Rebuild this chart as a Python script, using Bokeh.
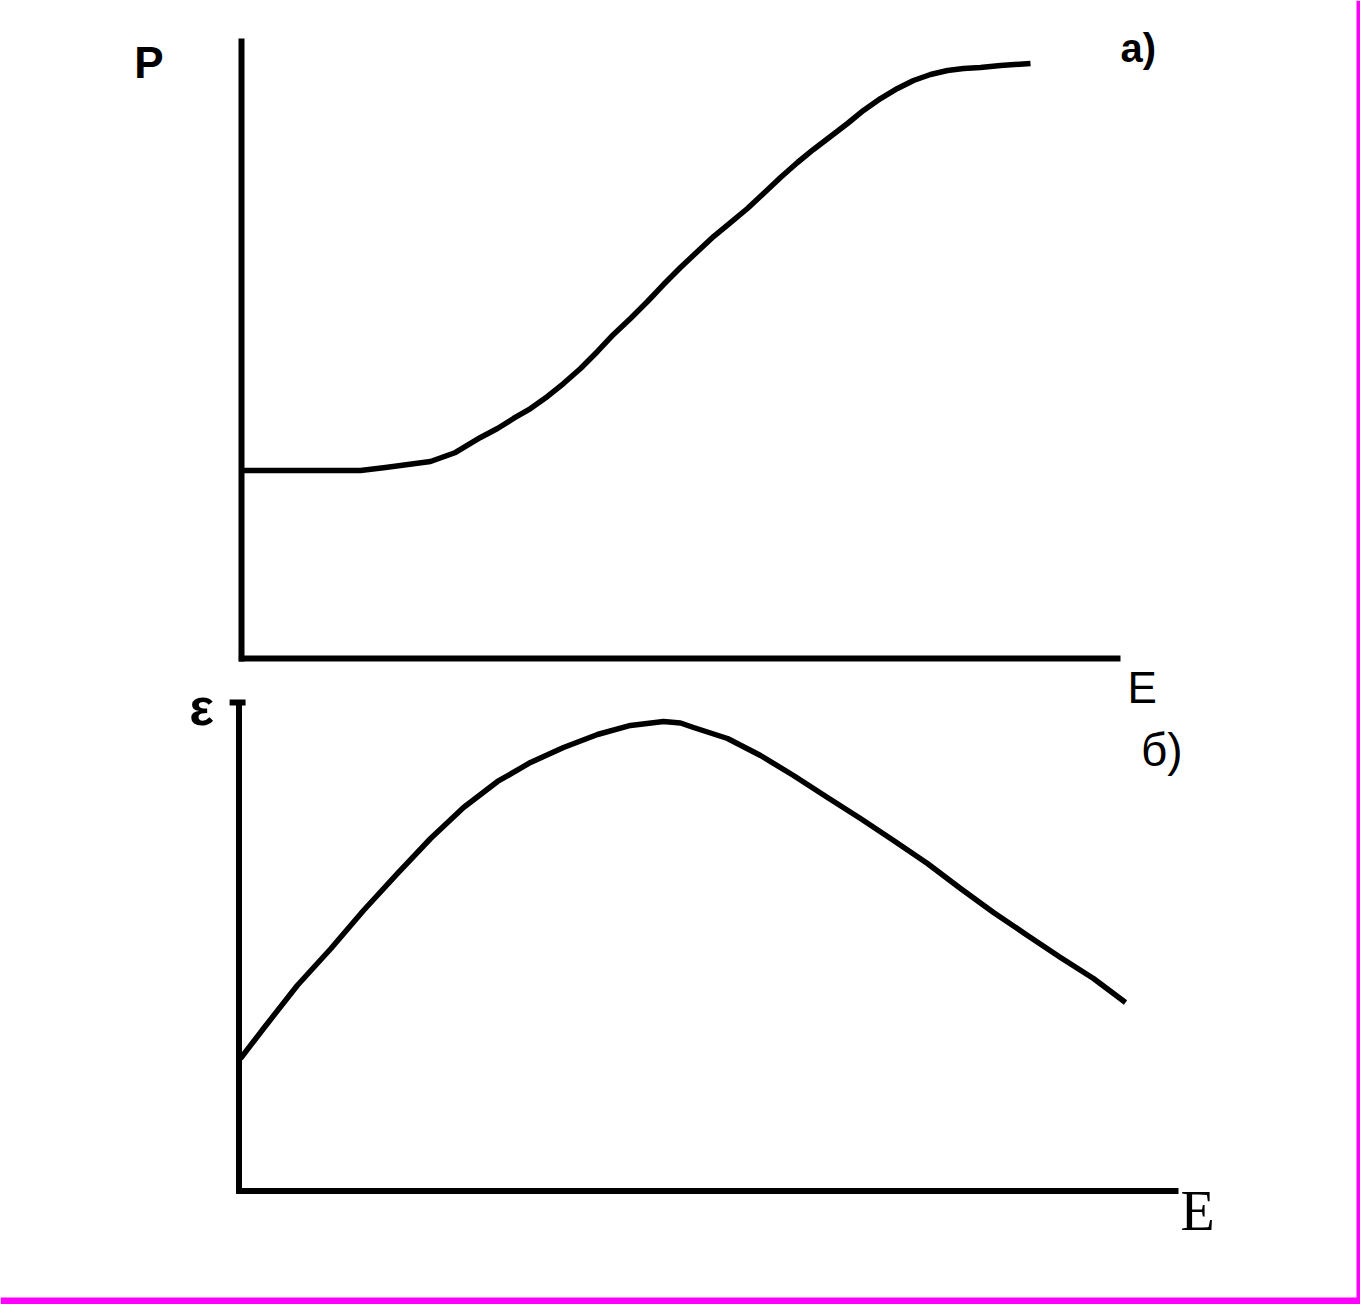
from bokeh.plotting import figure
from bokeh.models import Range1d
from bokeh.core.properties import value
from bokeh.embed import file_html
from bokeh.resources import INLINE

# ---- data: panel a) P(E) ----
E_a = [0.0, 1.354, 1.638, 2.150, 2.435, 2.719, 2.912, 3.094, 3.288, 3.481,
       3.663, 3.857, 4.050, 4.232, 4.425, 4.619, 4.801, 4.994, 5.188, 5.370,
       5.563, 5.756, 5.939, 6.132, 6.325, 6.507, 6.701, 6.894, 7.076, 7.270,
       7.463, 7.645, 7.838, 8.032, 8.214, 8.407, 8.635, 8.976]
P_a = [3.032, 3.032, 3.081, 3.177, 3.323, 3.565, 3.710, 3.871, 4.032, 4.226,
       4.435, 4.677, 4.952, 5.226, 5.484, 5.758, 6.032, 6.306, 6.565, 6.806,
       7.032, 7.258, 7.500, 7.758, 8.000, 8.210, 8.419, 8.629, 8.839, 9.032,
       9.194, 9.323, 9.419, 9.484, 9.516, 9.532, 9.565, 9.597]

# ---- data: panel б) ε(E) ----
E_b = [0.016, 0.261, 0.620, 0.979, 1.325, 1.688, 2.039, 2.390, 2.752, 3.103,
       3.454, 3.816, 4.167, 4.519, 4.699, 4.838, 5.200, 5.551, 5.902, 6.264,
       6.615, 6.967, 7.328, 7.680, 8.031, 8.393, 8.744, 9.095, 9.436]
eps_b = [2.712, 3.327, 4.207, 4.964, 5.742, 6.500, 7.216, 7.851, 8.383, 8.772,
         9.079, 9.345, 9.530, 9.611, 9.580, 9.488, 9.263, 8.915, 8.506, 8.055,
         7.625, 7.175, 6.704, 6.192, 5.701, 5.231, 4.780, 4.350, 3.859]

AXIS_MAX = 10.0

# ---- layout (page pixels) ----
W, H = 1360, 1304
PX0, PX1 = 0, W
PY0, PY1 = 0, H

# panel anchors: origin pixel and axis-end pixel
A_X0, A_X1, A_Y0, A_Y1 = 241, 1120, 658, 38
B_X0, B_X1, B_Y0, B_Y1 = 238.5, 1178, 1190.5, 702


def rng(p0, p1, v0, v1, lo, hi):
    k = (v1 - v0) / (p1 - p0)
    return Range1d(start=v0 + (lo - p0) * k, end=v0 + (hi - p0) * k)


p = figure(width=W, height=H, output_backend="svg", toolbar_location=None,
           x_range=Range1d(PX0, PX1), y_range=Range1d(PY1, PY0),
           x_axis_location=None, y_axis_location=None, min_border=0,
           outline_line_color=None, background_fill_color="white",
           border_fill_color="white")
p.grid.visible = False

p.extra_x_ranges["a"] = rng(A_X0, A_X1, 0, AXIS_MAX, PX0, PX1)
p.extra_y_ranges["a"] = rng(A_Y0, A_Y1, 0, AXIS_MAX, PY1, PY0)
p.extra_x_ranges["b"] = rng(B_X0, B_X1, 0, AXIS_MAX, PX0, PX1)
p.extra_y_ranges["b"] = rng(B_Y0, B_Y1, 0, AXIS_MAX, PY1, PY0)

# axes
for nm in ("a", "b"):
    p.segment(x0=[0, -0.03], y0=[-0.05, 0], x1=[0, AXIS_MAX], y1=[AXIS_MAX, 0],
              line_width=6, line_color="black",
              x_range_name=nm, y_range_name=nm)
p.segment(x0=[-0.10], y0=[AXIS_MAX], x1=[0.07], y1=[AXIS_MAX], line_width=6,
          line_color="black", x_range_name="b", y_range_name="b")

# curves
p.line(E_a, P_a, line_width=5.5, line_color="black", line_join="round",
       x_range_name="a", y_range_name="a")
p.line(E_b, eps_b, line_width=5.5, line_color="black", line_join="round",
       x_range_name="b", y_range_name="b")

# labels (baseline given in panel units; small lift for svg baseline handling)
SCALE_Y = {"a": (A_Y0 - A_Y1) / AXIS_MAX, "b": (B_Y0 - B_Y1) / AXIS_MAX}


def lab(x, y, t, nm, font, size, style="normal"):
    lift = 0.38 * size / SCALE_Y[nm]
    p.text(x=[x], y=[y + lift], text=[t], x_range_name=nm, y_range_name=nm,
           text_font=value(font), text_font_size=value(f"{size}px"),
           text_font_style=style, text_color="black",
           text_align="left", text_baseline="alphabetic")


lab(-1.22, 9.34, "P", "a", "Liberation Sans", 44, "bold")
lab(10.0, 9.60, "a)", "a", "Liberation Sans", 40, "bold")
lab(10.08, -0.73, "E", "a", "Liberation Sans", 44)
lab(9.60, 8.67, "б)", "b", "Liberation Sans", 46)
lab(-0.53, 9.51, "ε", "b", "Liberation Sans", 52, "bold")
lab(10.02, -0.85, "E", "b", "Liberation Serif", 56)

# magenta frame (right and bottom edges)
p.quad(left=[PX1 - 4, PX0], right=[PX1, PX1], top=[PY0, PY1 - 7],
       bottom=[PY1, PY1], fill_color="#ff00ff", line_color=None)

open("out.html", "w").write(file_html(p, INLINE))
